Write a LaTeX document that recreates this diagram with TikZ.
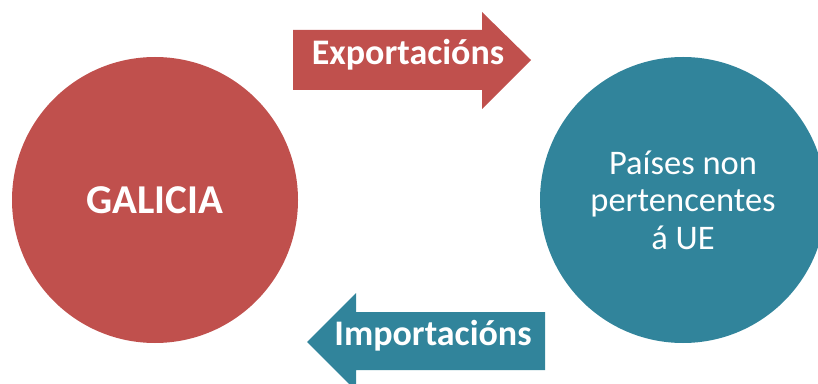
\documentclass[tikz,border=0pt]{standalone}
\usepackage{fontspec}
\setmainfont{Carlito}
\usetikzlibrary{positioning}
\definecolor{galred}{HTML}{C0504D}
\definecolor{galteal}{HTML}{31849B}

\begin{document}
\begin{tikzpicture}[x=1pt,y=1pt,
    bola/.style={circle,minimum size=286pt,inner sep=0pt,text=white},
    rotulo/.style={text=white,inner sep=0pt,anchor=base,font=\bfseries\fontsize{36}{40}\selectfont}]
        \useasboundingbox (0,0) rectangle (818,383);
        % circles
        \node[bola,fill=galred,font=\bfseries\fontsize{41}{45}\selectfont] (galicia) at (155,183) {GALICIA};
        \node[bola,fill=galteal,align=center,font=\fontsize{34.5}{37.5}\selectfont] (paises) at (683,183) {Países non\\pertencentes\\á UE};
        % arrows
        \fill[galred] (293,353) -- (482,353) -- (482,371) -- (531,323) -- (482,274) -- (482,293) -- (293,293) -- cycle;
        \node[rotulo] (export) at (408,318) {Exportacións};
        \fill[galteal] (545,71) -- (356,71) -- (356,90) -- (307,41) -- (356,-8) -- (356,13) -- (545,13) -- cycle;
        \node[rotulo] (import) at (433,38) {Importacións};
\end{tikzpicture}
\end{document}
